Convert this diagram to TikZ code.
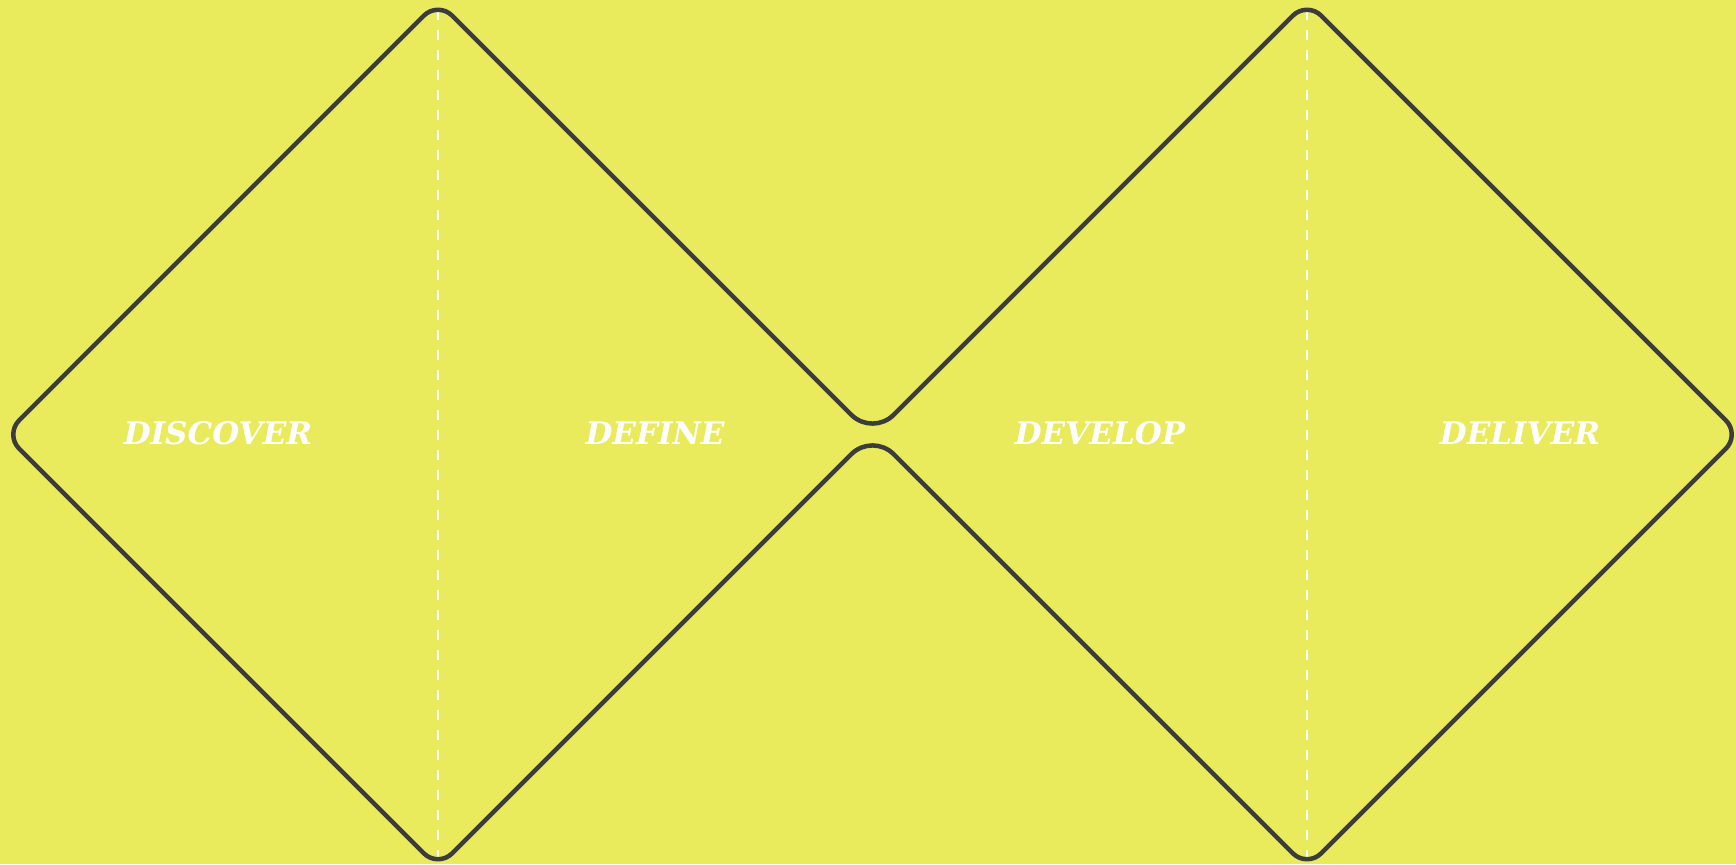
\documentclass[tikz,border=0pt]{standalone}
\usepackage{fontspec}
\newfontfamily\labelfont{DejaVu Serif}
\definecolor{bgyellow}{RGB}{233,234,92}
\definecolor{outline}{RGB}{60,60,60}
\begin{document}
\begin{tikzpicture}[x=1pt,y=-1pt,
  phase/.style={font=\labelfont\bfseries\itshape\fontsize{31}{31}\selectfont, text=white, anchor=base, inner sep=0pt},
  divider/.style={draw=white, line width=2pt, dash pattern=on 10pt off 10pt},
  diamond outline/.style={draw=outline, line width=4.5pt, line join=round}]
\fill[bgyellow] (0,0) rectangle (1736,864);
\useasboundingbox (0,0) rectangle (1736,864);
% virtual vertices
\coordinate (L)  at (5,434.5);
\coordinate (T1) at (438,1.5);
\coordinate (B1) at (438,867.5);
\coordinate (Mu) at (872.5,436);
\coordinate (Ml) at (872.5,433);
\coordinate (T2) at (1307,1.5);
\coordinate (R)  at (1740,434.5);
\coordinate (B2) at (1307,867.5);
% dividers
\coordinate (d1t) at (438,10);
\coordinate (d1b) at (438,860);
\coordinate (d2t) at (1307,10);
\coordinate (d2b) at (1307,860);
\draw[divider] (d1t) -- (d1b);
\draw[divider] (d2t) -- (d2b);
% outline
\draw[diamond outline, rounded corners=20pt] (L) -- (T1) [rounded corners=30pt] -- (Mu) [rounded corners=20pt] -- (T2) -- (R) -- (B2) [rounded corners=30pt] -- (Ml) [rounded corners=20pt] -- (B1) -- cycle;
% labels
\node[phase] (discover) at (218,444) {DISCOVER};
\node[phase] (define)   at (655,444) {DEFINE};
\node[phase] (develop)  at (1100,444) {DEVELOP};
\node[phase] (deliver)  at (1520,444) {DELIVER};
\end{tikzpicture}
\end{document}
